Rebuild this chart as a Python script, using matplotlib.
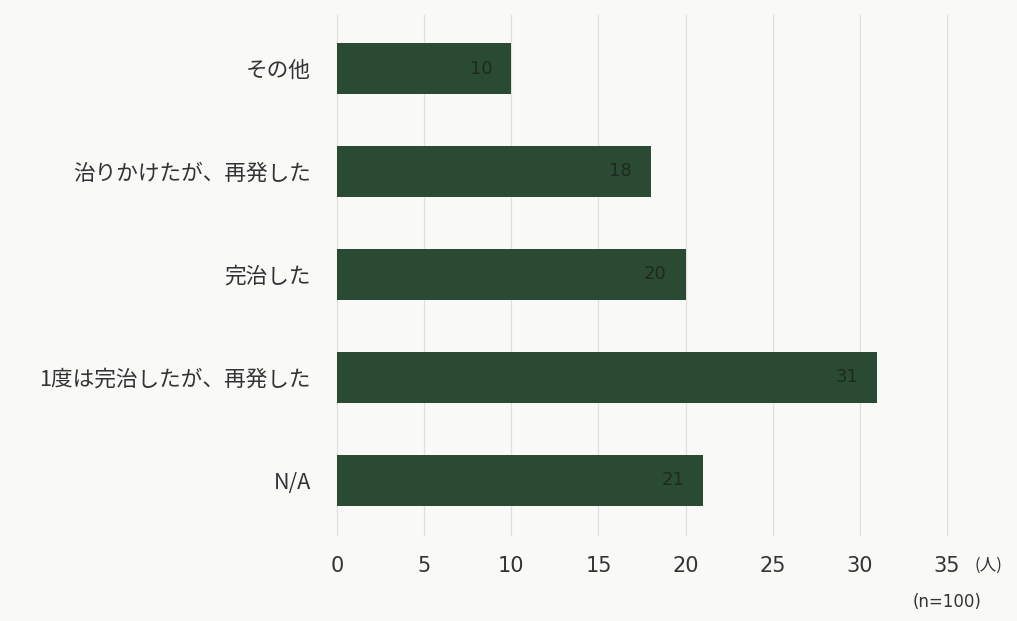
import matplotlib
matplotlib.use("Agg")
import matplotlib.pyplot as plt

plt.rcParams['font.family'] = ['DejaVu Sans', 'Noto Sans CJK JP']

categories = ["その他", "治りかけたが、再発した", "完治した", "1度は完治したが、再発した", "N/A"]
values = [10, 18, 20, 31, 21]
xticks = [0, 5, 10, 15, 20, 25, 30, 35]

bg = "#f9f9f8"
bar_color = "#2b4a33"
text_color = "#333333"

fig = plt.figure(figsize=(10.17, 6.21), dpi=100, facecolor=bg)
ax = fig.add_axes([0.3314, 0.1385, 0.5998, 0.8374], facecolor=bg)

ypos = list(range(len(categories)))
ax.barh(ypos, values, height=0.5, color=bar_color, zorder=3)

for y, v in zip(ypos, values):
    ax.annotate(str(v), xy=(v, y), xytext=(-13.5, 0), textcoords="offset points",
                ha="right", va="center", fontsize=13, color="#1c2a20", zorder=4)

ax.set_xlim(0, 35)
ax.set_ylim(4.53, -0.52)
ax.set_xticks(xticks)
ax.set_xticklabels([str(t) for t in xticks], fontsize=15, color=text_color)
ax.set_yticks(ypos)
ax.set_yticklabels(categories, fontsize=15.6, color=text_color,
                   family=['Noto Sans CJK JP', 'DejaVu Sans'])
ax.tick_params(axis="both", length=0)
ax.tick_params(axis="x", pad=15)
ax.tick_params(axis="y", pad=19)

ax.grid(axis="x", color="#e0e0e0", linewidth=0.9, zorder=0)
for line in ax.get_xgridlines():
    line.set_clip_on(False)
for s in ax.spines.values():
    s.set_visible(False)

fig.text(0.972, 0.09, "(人)", fontsize=12, color=text_color, ha="center", va="center",
         family=['Noto Sans CJK JP', 'DejaVu Sans'])
fig.text(0.931, 0.031, "(n=100)", fontsize=12, color=text_color, ha="center", va="center")

fig.savefig("out.png", dpi=100, facecolor=bg)
